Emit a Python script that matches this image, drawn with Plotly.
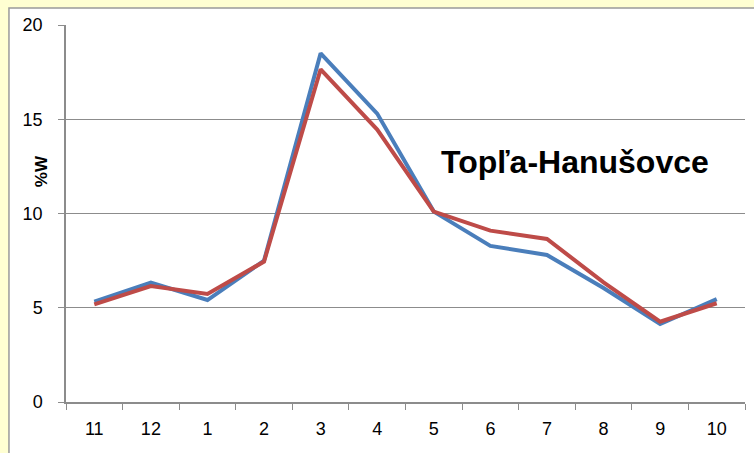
import plotly.graph_objects as go

# monthly share of annual runoff (%W), hydrological year Nov-Oct
months = ["11", "12", "1", "2", "3", "4", "5", "6", "7", "8", "9", "10"]
series_a = [5.32, 6.33, 5.41, 7.5, 18.5, 15.3, 10.1, 8.28, 7.8, 6.05, 4.14, 5.46]
series_b = [5.18, 6.15, 5.73, 7.45, 17.65, 14.45, 10.1, 9.09, 8.65, 6.35, 4.26, 5.24]
y_ticks = [0, 5, 10, 15, 20]

BLUE = "#4A7EBB"
RED = "#BE4B48"
GRID = "#8C8C8C"
FONT = "Liberation Sans, Arial, sans-serif"

fig = go.Figure()
fig.add_trace(go.Scatter(x=months, y=series_a, mode="lines",
                         line=dict(color=BLUE, width=4), showlegend=False))
fig.add_trace(go.Scatter(x=months, y=series_b, mode="lines",
                         line=dict(color=RED, width=4), showlegend=False))

# white chart panel on the yellow page
fig.add_shape(type="rect", xref="paper", yref="paper",
              x0=-0.084, x1=1.2, y0=-0.3, y1=1.045,
              fillcolor="white", line=dict(color="#9A9A9A", width=1.5),
              layer="below")

fig.add_annotation(text="<b>Topľa-Hanušovce</b>", xref="paper", yref="paper",
                   x=0.75, y=0.636, xanchor="center", yanchor="middle",
                   showarrow=False,
                   font=dict(size=32, color="black", family=FONT))
fig.add_annotation(text="<b>%W</b>", xref="paper", yref="paper",
                   x=-0.035, y=0.613, xanchor="center", yanchor="middle",
                   textangle=-90, showarrow=False,
                   font=dict(size=17, color="black", family=FONT))

fig.update_xaxes(type="category", range=[-0.5, 11.5], automargin=False,
                 showline=True, linecolor=GRID, linewidth=1.5,
                 ticks="outside", tickson="boundaries", ticklen=6, tickcolor=GRID,
                 ticklabelstandoff=10, showgrid=False, zeroline=False,
                 tickfont=dict(size=18, color="black", family=FONT))
fig.update_yaxes(range=[0, 20], tickvals=y_ticks, automargin=False,
                 showline=True, linecolor=GRID, linewidth=1.5,
                 ticks="outside", ticklen=6, tickcolor=GRID,
                 ticklabelstandoff=12,
                 showgrid=True, gridcolor=GRID, gridwidth=1, zeroline=False,
                 tickfont=dict(size=18, color="black", family=FONT))

fig.update_layout(
    width=754, height=453,
    paper_bgcolor="#FFFFD2",
    plot_bgcolor="rgba(0,0,0,0)",
    margin=dict(l=66, r=9, t=25, b=51),
    font=dict(family=FONT, color="black"),
)

# drop the browser's default body margin so the figure fills the window
fig.write_html("out.html", config={"displayModeBar": False},
               post_script="document.body.style.margin='0';")
